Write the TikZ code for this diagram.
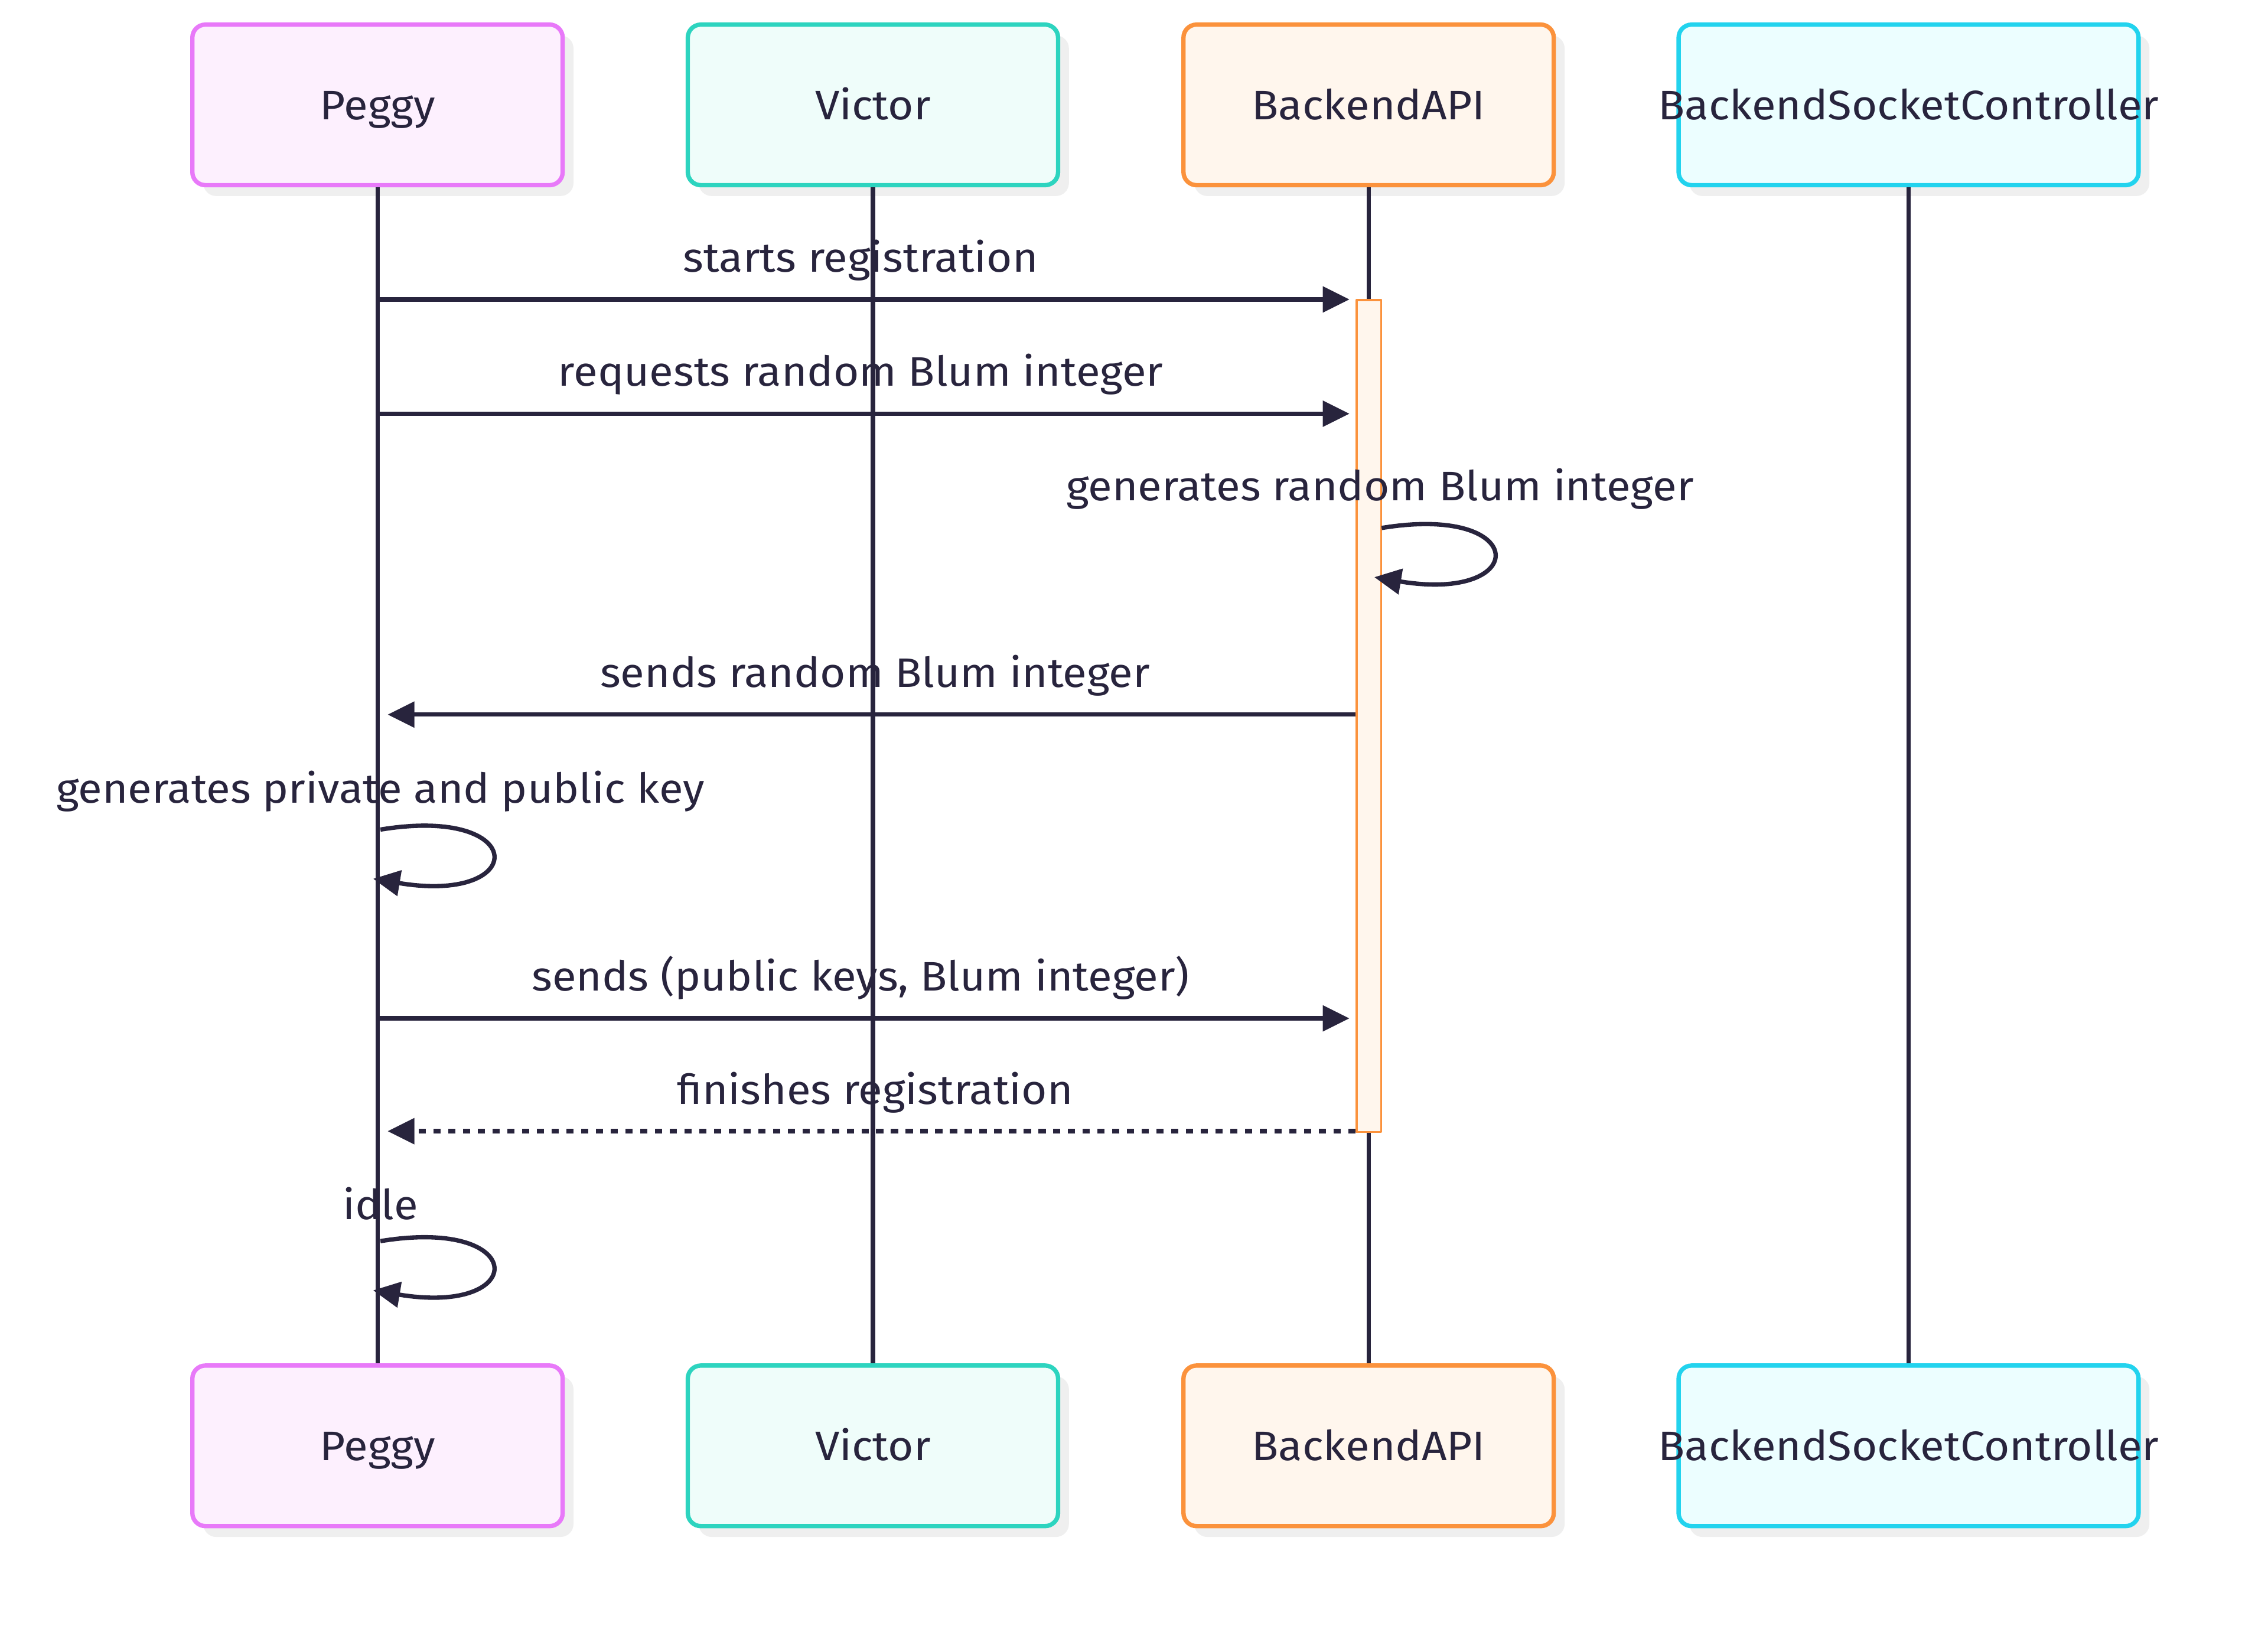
\documentclass[tikz,border=0pt]{standalone}
\usepackage{fontspec}
\setmainfont{Fira Sans}[FakeStretch=1.066]
\usetikzlibrary{arrows.meta,shadows,calc}
\definecolor{ink}{HTML}{28243D}
\definecolor{pegB}{HTML}{E879F9}\definecolor{pegF}{HTML}{FDF0FE}
\definecolor{vicB}{HTML}{2DD4BF}\definecolor{vicF}{HTML}{EFFDFA}
\definecolor{apiB}{HTML}{FB923C}\definecolor{apiF}{HTML}{FFF6ED}
\definecolor{sockB}{HTML}{22D3EE}\definecolor{sockF}{HTML}{ECFEFF}
\definecolor{shad}{HTML}{EFEFEF}
\tikzset{
 actor/.style={draw=#1B, fill=#1F, line width=3pt, rounded corners=9pt,
   minimum height=111pt, minimum width=256pt, inner sep=0pt,
   general shadow={fill=shad, draw=none, shadow xshift=7.5pt, shadow yshift=-7.5pt}},
 atext/.style={text=ink, font=\fontsize{28.5}{34}\selectfont, anchor=base, inner sep=0pt},
 life/.style={draw=ink, line width=3pt},
 msg/.style={draw=ink, line width=3pt, -{Triangle[length=18.5pt,width=17.5pt]}},
 reply/.style={msg, dash pattern=on 5pt off 5.2pt},
 actbar/.style={draw=apiB, fill=apiF, line width=1.5pt, minimum width=17pt,
   minimum height=575pt, inner sep=0pt},
}
\begin{document}
\begin{tikzpicture}[x=1pt,y=-1pt,line join=round]
\useasboundingbox[fill=white] (0,0) rectangle (1568,1128);
% actors top
\node[actor=peg] (pT) at (261,72.5) {};
\node[actor=vic] (vT) at (603.5,72.5) {};
\node[actor=api] (bT) at (946.2,72.5) {};
\node[actor=sock, minimum width=318pt] (sT) at (1319.5,72.5) {};
% actors bottom
\node[actor=peg] (pB) at (261,999.5) {};
\node[actor=vic] (vB) at (603.5,999.5) {};
\node[actor=api] (bB) at (946.2,999.5) {};
\node[actor=sock, minimum width=318pt] (sB) at (1319.5,999.5) {};
% actor texts
\foreach \n/\t in {pT/Peggy,vT/Victor,bT/BackendAPI,sT/BackendSocketController,
                   pB/Peggy,vB/Victor,bB/BackendAPI,sB/BackendSocketController}{
  \node[atext] (\n-txt) at ([yshift=-10pt]\n.center) {\t};
}
% lifelines
\draw[life] (pT.south) -- (pB.north);
\draw[life] (vT.south) -- (vB.north);
\draw[life] (bT.south) -- (bB.north);
\draw[life] (sT.south) -- (sB.north);
% activation
\node[actbar] (act) at (946.4,495) {};
% message rows
\coordinate (m1) at (0,207);
\coordinate (m2) at (0,286);
\coordinate (m4) at (0,494);
\coordinate (m6) at (0,704);
\coordinate (m7) at (0,782);
\coordinate (s3) at ($(act.east |- 0,365)+(-0.5,0)$);
\coordinate (s5) at ($(pT.south |- 0,573.5)+(2,0)$);
\coordinate (s8) at ($(pT.south |- 0,858)+(2,0)$);
% 1
\node[atext] (l1) at (595,188) {starts registration};
\draw[msg, shorten >=4.2pt] (pT.south |- m1) -- (act.west |- m1);
% 2
\node[atext] (l2) at (595,267) {requests random Blum integer};
\draw[msg, shorten >=4.2pt] (pT.south |- m2) -- (act.west |- m2);
% 3 self loop
\node[atext] (l3) at (954,346) {generates random Blum integer};
\draw[msg] (s3) .. controls ($(s3)+(103,-17)$) and ($(s3)+(103,52)$) .. ($(s3)+(-5,34)$);
% 4
\node[atext] (l4) at (605,475) {sends random Blum integer};
\draw[msg, shorten >=7pt] (act.west |- m4) -- (pT.south |- m4);
% 5 self loop
\node[atext] (l5) at (263,555) {generates private and public key};
\draw[msg] (s5) .. controls ($(s5)+(103,-17)$) and ($(s5)+(103,52)$) .. ($(s5)+(-5,34)$);
% 6
\node[atext] (l6) at (595,685) {sends (public keys, Blum integer)};
\draw[msg, shorten >=4.2pt] (pT.south |- m6) -- (act.west |- m6);
% 7
\node[atext] (l7) at (605,763.5) {finishes registration};
\draw[reply, shorten >=7pt] (act.west |- m7) -- (pT.south |- m7);
% 8 self loop
\node[atext] (l8) at (263,843) {idle};
\draw[msg] (s8) .. controls ($(s8)+(103,-17)$) and ($(s8)+(103,52)$) .. ($(s8)+(-5,34)$);
\end{tikzpicture}
\end{document}
